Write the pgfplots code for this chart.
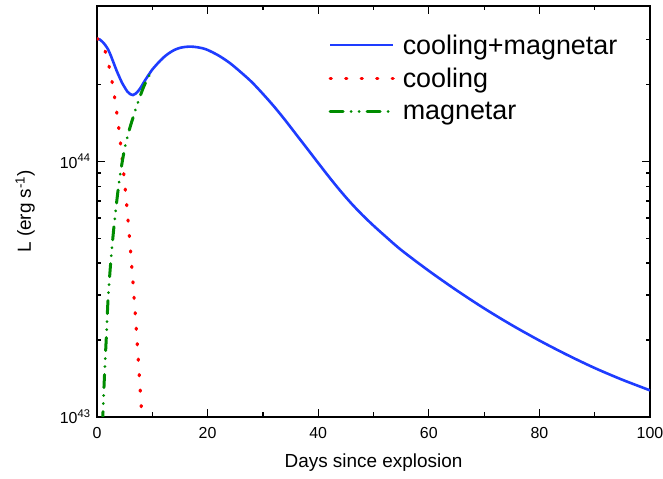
\documentclass[border=0pt]{standalone}
\usepackage{fontspec}
\setmainfont{Liberation Sans}
\usepackage{pgfplots}
\usepackage{pgfplotstable}
\pgfplotsset{compat=1.18}

\definecolor{sumblue}{RGB}{30,60,255}
\definecolor{coolred}{RGB}{255,0,0}
\definecolor{maggreen}{RGB}{0,140,0}

% cooling + magnetar (total luminosity)
\pgfplotstableread{
t L
0    3.020e44
0.5  2.998e44
1.0  2.935e44
1.5  2.850e44
2.0  2.743e44
2.5  2.592e44
3.0  2.431e44
3.5  2.277e44
4.0  2.150e44
4.5  2.035e44
5.0  1.949e44
5.5  1.875e44
6.0  1.833e44
6.5  1.817e44
7.0  1.842e44
7.5  1.890e44
8.0  1.959e44
8.5  2.044e44
9.0  2.125e44
9.5  2.206e44
10   2.287e44
11   2.421e44
12   2.547e44
13   2.649e44
14   2.729e44
15   2.780e44
16   2.805e44
17   2.812e44
18   2.799e44
19   2.773e44
20   2.729e44
22   2.594e44
24   2.427e44
26   2.234e44
28   2.042e44
30   1.837e44
32   1.641e44
34   1.452e44
36   1.276e44
38   1.122e44
40   9.854e43
42   8.670e43
44   7.669e43
46   6.841e43
48   6.164e43
50   5.603e43
52   5.123e43
55   4.500e43
60   3.729e43
65   3.131e43
70   2.659e43
75   2.287e43
80   1.990e43
85   1.749e43
90   1.553e43
95   1.397e43
100  1.270e43
}\totaltab

% cooling emission
\pgfplotstableread{
t L
0    3.020e44
0.5  2.981e44
1.0  2.867e44
1.5  2.688e44
2.0  2.455e44
2.5  2.185e44
3.0  1.894e44
3.5  1.601e44
4.0  1.318e44
4.5  1.058e44
5.0  8.270e43
5.5  6.300e43
6.0  4.677e43
6.5  3.383e43
7.0  2.385e43
7.5  1.638e43
8.0  1.096e43
8.5  7.150e42
}\cooltab

% magnetar input
\pgfplotstableread{
t L
1.0   9.33e42
1.25  1.288e43
1.5   1.698e43
1.75  2.188e43
2.0   2.884e43
2.5   4.074e43
3.0   5.370e43
3.5   6.761e43
4.0   8.318e43
4.5   9.772e43
5.0   1.122e44
5.5   1.245e44
6.0   1.365e44
6.5   1.479e44
7.0   1.603e44
7.5   1.726e44
8.0   1.849e44
8.5   1.972e44
9.0   2.080e44
9.5   2.178e44
10.0  2.270e44
}\magtab

\begin{document}
\begin{tikzpicture}
\path[use as bounding box] (-97bp,-62bp) rectangle (566bp,417bp);
\begin{axis}[
  scale only axis,
  width=553bp, height=411bp,
  xmin=0, xmax=100,
  ymode=log, ymin=1e43, ymax=4.06e44,
  axis line style={line width=1.5bp},
  every tick/.style={black, line width=1.2bp},
  tick align=inside,
  major tick length=8bp, minor tick length=4.5bp,
  xtick={0,20,40,60,80,100},
  xticklabels={0,20,40,60,80,100},
  minor xtick={10,30,50,70,90},
  ytick={1e43,1e44},
  yticklabels={10\textsuperscript{43},10\textsuperscript{44}},
  minor ytick={2e43,3e43,4e43,5e43,6e43,7e43,8e43,9e43,2e44,3e44},
  ticklabel style={font=\fontsize{16}{19}\selectfont},
  xticklabel style={yshift=-7bp},
  yticklabel style={xshift=-3bp},
  xlabel={Days since explosion},
  ylabel={L (erg s\textsuperscript{-1})},
  label style={font=\fontsize{19}{22}\selectfont},
  xlabel style={at={(axis description cs:0.5,-0.112)}, anchor=center},
  ylabel style={at={(axis description cs:-0.130,0.5)}, anchor=center},
  legend cell align=left,
  legend style={draw=none, fill=none, at={(axis description cs:0.413,0.94)},
    anchor=north west, font=\fontsize{27}{31}\selectfont, row sep=8.5bp},
  legend image code/.code={\draw[#1] (0bp,0bp) -- (63bp,0bp); \path (69bp,0bp);},
]
\addplot[sumblue, line width=2.6bp, smooth] table[x=t, y=L] {\totaltab};
\addlegendentry{cooling+magnetar}
\addplot[coolred, line width=3.2bp, line cap=round, dash pattern=on 1.2bp off 14.3bp] table[x=t, y=L] {\cooltab};
\addlegendentry{cooling}
\addplot[maggreen, line width=3bp, line cap=round,
  dash pattern=on 13bp off 8bp on 0.01bp off 8bp on 0.01bp off 8bp, smooth] table[x=t, y=L] {\magtab};
\addlegendentry{magnetar}
\end{axis}
\end{tikzpicture}
\end{document}
